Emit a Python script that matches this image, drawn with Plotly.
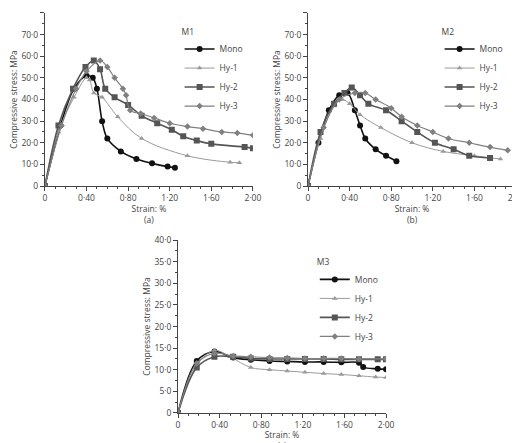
import plotly.graph_objects as go

series = ["Mono", "Hy-1", "Hy-2", "Hy-3"]
colors = {"Mono": "#111111", "Hy-1": "#9a9a9a", "Hy-2": "#555555", "Hy-3": "#808080"}
symbols = {"Mono": "circle", "Hy-1": "triangle-up", "Hy-2": "square", "Hy-3": "diamond"}
widths = {"Mono": 1.6, "Hy-1": 1.0, "Hy-2": 1.6, "Hy-3": 1.2}
msize = {"Mono": 6, "Hy-1": 5, "Hy-2": 6, "Hy-3": 5}

# M1
m1_mono_x = [0, 0.15, 0.28, 0.40, 0.46, 0.50, 0.55, 0.60, 0.73, 0.88, 1.03, 1.18, 1.25]
m1_mono_y = [0, 28, 45, 51, 50, 45, 30, 22, 16, 12.5, 10.5, 9, 8.5]
m1_hy1_x = [0, 0.13, 0.28, 0.40, 0.43, 0.47, 0.55, 0.70, 0.93, 1.37, 1.78, 1.87]
m1_hy1_y = [0, 25, 41, 50, 49, 43, 41, 32, 22, 14, 11, 10.8]
m1_hy2_x = [0, 0.13, 0.27, 0.39, 0.47, 0.53, 0.58, 0.67, 0.80, 0.93, 1.08, 1.22, 1.33, 1.46, 1.60, 1.92, 2.00]
m1_hy2_y = [0, 28, 45, 55, 58, 54, 45, 41, 37.5, 32.5, 29, 26, 23, 21, 19.5, 18, 17.5]
m1_hy3_x = [0, 0.16, 0.30, 0.40, 0.53, 0.60, 0.67, 0.75, 0.78, 0.82, 0.92, 1.05, 1.20, 1.37, 1.52, 1.70, 1.85, 2.00]
m1_hy3_y = [0, 28, 45, 53, 58, 55, 50, 45, 42, 35, 33.5, 31.5, 29, 27.5, 26.5, 25, 24.5, 23.5]

# M2
m2_mono_x = [0, 0.10, 0.20, 0.30, 0.38, 0.45, 0.50, 0.55, 0.65, 0.75, 0.85]
m2_mono_y = [0, 20, 35, 42, 43, 35, 28, 22, 17, 14, 11.5]
m2_hy1_x = [0, 0.12, 0.25, 0.33, 0.40, 0.50, 0.70, 1.00, 1.30, 1.60, 1.85]
m2_hy1_y = [0, 22, 37, 40, 38, 33, 27, 20, 16, 14, 12.5]
m2_hy2_x = [0, 0.12, 0.25, 0.35, 0.42, 0.50, 0.58, 0.75, 0.90, 1.05, 1.22, 1.40, 1.55, 1.75]
m2_hy2_y = [0, 25, 38, 43, 45.5, 42, 38, 35, 30, 25, 20, 17, 14, 13]
m2_hy3_x = [0, 0.15, 0.30, 0.45, 0.55, 0.65, 0.80, 0.90, 1.05, 1.20, 1.35, 1.55, 1.75, 1.92]
m2_hy3_y = [0, 27, 40, 43, 43, 40, 36, 32, 28, 25, 22, 20, 18, 16.5]

# M3
m3_mono_x = [0, 0.18, 0.35, 0.53, 0.70, 0.88, 1.05, 1.22, 1.40, 1.57, 1.74, 1.78, 1.92, 2.00]
m3_mono_y = [0, 12, 14.2, 12.8, 12.3, 12, 11.9, 11.8, 11.8, 11.7, 11.6, 10.6, 10.2, 10.1]
m3_hy1_x = [0, 0.18, 0.35, 0.50, 0.70, 0.88, 1.05, 1.22, 1.40, 1.57, 1.74, 1.90, 2.00]
m3_hy1_y = [0, 11, 14.5, 13, 10.5, 10, 9.7, 9.4, 9.1, 8.9, 8.6, 8.3, 8.2]
m3_hy2_x = [0, 0.18, 0.35, 0.53, 0.70, 0.88, 1.05, 1.22, 1.40, 1.57, 1.74, 1.92, 2.00]
m3_hy2_y = [0, 10.5, 13, 13, 12.6, 12.5, 12.5, 12.5, 12.5, 12.4, 12.4, 12.4, 12.4]
m3_hy3_x = [0, 0.18, 0.35, 0.53, 0.70, 0.88, 1.05, 1.22, 1.40, 1.57, 1.74, 2.00]
m3_hy3_y = [0, 11.5, 13.8, 13.2, 13, 12.8, 12.7, 12.6, 12.6, 12.6, 12.5, 12.5]

panels = [
    ("M1", "(a)", [(m1_mono_x, m1_mono_y), (m1_hy1_x, m1_hy1_y), (m1_hy2_x, m1_hy2_y), (m1_hy3_x, m1_hy3_y)], 80, 10),
    ("M2", "(b)", [(m2_mono_x, m2_mono_y), (m2_hy1_x, m2_hy1_y), (m2_hy2_x, m2_hy2_y), (m2_hy3_x, m2_hy3_y)], 80, 10),
    ("M3", "(c)", [(m3_mono_x, m3_mono_y), (m3_hy1_x, m3_hy1_y), (m3_hy2_x, m3_hy2_y), (m3_hy3_x, m3_hy3_y)], 40, 5),
]

# paper domains (x, y) and legend positions
doms = [([0.071, 0.471], [0.598, 0.989], (0.33, 0.965)),
        ([0.577, 0.977], [0.598, 0.989], (0.83, 0.965)),
        ([0.327, 0.727], [0.086, 0.476], (0.59, 0.445))]

xt = [0, 0.4, 0.8, 1.2, 1.6, 2.0]
xtt = ["0", "0·40", "0·80", "1·20", "1·60", "2·00"]
font = dict(family="Open Sans", size=8.5, color="#444")

fig = go.Figure()
layout = {}
for i, (name, lab, data, ymax, ystep) in enumerate(panels):
    n = "" if i == 0 else str(i + 1)
    leg = "legend" + n
    for s, (x, y) in zip(series, data):
        fig.add_trace(go.Scatter(
            x=x, y=y, name=s, mode="lines+markers", line_shape="spline",
            line=dict(color=colors[s], width=widths[s]),
            marker=dict(symbol=symbols[s], size=msize[s], color=colors[s]),
            xaxis="x" + n, yaxis="y" + n, legend=leg))
    dx, dy, (lx, ly) = doms[i]
    yv = [k * ystep for k in range(int(ymax / ystep) + 1)]
    yl = ["0"] + [f"{v:.1f}".replace(".", "·") for v in yv[1:]]
    layout["xaxis" + n] = dict(domain=dx, anchor="y" + n, range=[0, 2.0], tickvals=xt, ticktext=xtt,
                               ticks="outside", ticklen=4, showgrid=False, zeroline=False,
                               showline=True, linecolor="#444", tickfont=font, automargin=False,
                               minor=dict(ticks="outside", ticklen=2, dtick=0.1),
                               title=dict(text="Strain: %<br>" + lab, font=font, standoff=2))
    layout["yaxis" + n] = dict(domain=dy, anchor="x" + n, range=[0, ymax], tickvals=yv, ticktext=yl,
                               ticks="outside", ticklen=4, showgrid=False, zeroline=False,
                               showline=True, linecolor="#444", tickfont=font, automargin=False,
                               minor=dict(ticks="outside", ticklen=2, dtick=ystep / 2),
                               title=dict(text="Compressive stress: MPa", font=font, standoff=2))
    layout[leg] = dict(x=lx, y=ly, xanchor="left", yanchor="top", title=dict(text=name, font=font),
                       font=font, bgcolor="rgba(0,0,0,0)", tracegroupgap=0, itemwidth=30)

fig.update_layout(width=520, height=443, margin=dict(l=0, r=0, t=0, b=0),
                  plot_bgcolor="white", paper_bgcolor="white", **layout)
fig.write_html("out.html")
